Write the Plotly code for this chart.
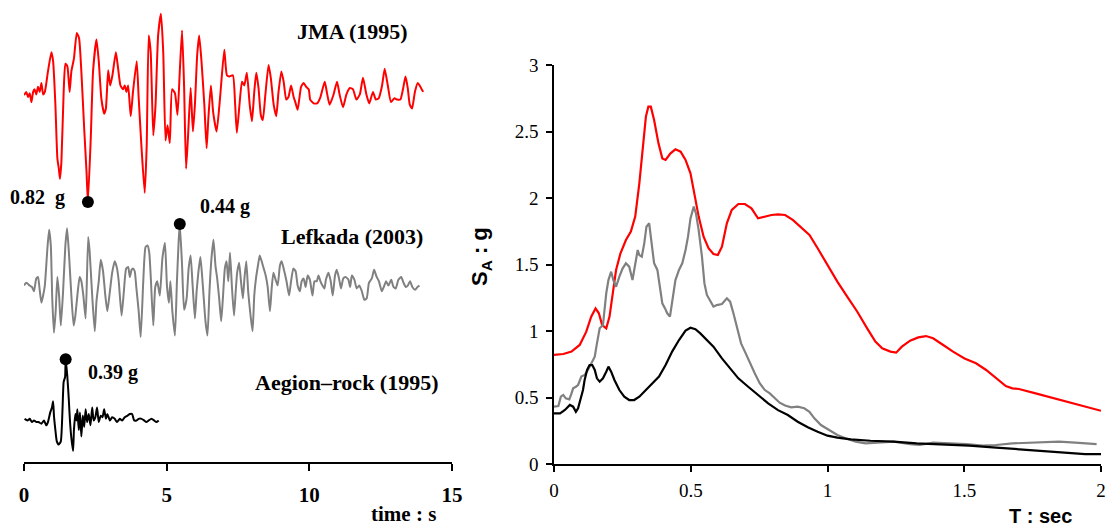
import plotly.graph_objects as go

# ---------------- time histories (t in s, acceleration in g) ----------------
jma_t = [0.0, 0.02, 0.08, 0.14, 0.20, 0.26, 0.32, 0.37, 0.43, 0.49, 0.55, 0.61, 0.67, 0.73, 0.84, 0.96,
         1.02, 1.10, 1.17, 1.22, 1.26, 1.31, 1.39, 1.45, 1.52, 1.60, 1.66, 1.75, 1.85, 1.93, 2.01, 2.11,
         2.19, 2.24, 2.34, 2.42, 2.54, 2.62, 2.71, 2.81, 2.87, 2.95, 3.02, 3.10, 3.22, 3.30, 3.38, 3.47,
         3.53, 3.59, 3.65, 3.74, 3.82, 3.95, 4.02, 4.12, 4.23, 4.30, 4.37, 4.44, 4.53, 4.61, 4.70, 4.80,
         4.88, 4.96, 5.03, 5.11, 5.19, 5.29, 5.38, 5.46, 5.54, 5.61, 5.68, 5.75, 5.84, 5.92, 5.99, 6.07,
         6.14, 6.22, 6.32, 6.40, 6.46, 6.55, 6.63, 6.75, 6.87, 7.02, 7.11, 7.20, 7.32, 7.40, 7.46, 7.56,
         7.64, 7.72, 7.81, 7.91, 7.99, 8.07, 8.14, 8.22, 8.30, 8.37, 8.46, 8.57, 8.65, 8.75, 8.84, 8.92,
         9.02, 9.10, 9.19, 9.27, 9.36, 9.45, 9.51, 9.59, 9.71, 9.80, 9.89, 9.98, 10.03, 10.15, 10.27,
         10.39, 10.54, 10.62, 10.71, 10.85, 10.97, 11.06, 11.18, 11.30, 11.42, 11.53, 11.65, 11.77,
         11.88, 12.00, 12.10, 12.23, 12.33, 12.43, 12.55, 12.64, 12.75, 12.86, 12.98, 13.08, 13.19,
         13.29, 13.37, 13.45, 13.52, 13.60, 13.70, 13.80, 13.89, 13.99]
jma_a = [0.03, 0.02, 0.04, 0.00, 0.03, -0.04, 0.04, 0.06, 0.02, 0.08, 0.04, 0.11, 0.02, 0.04, 0.20, 0.35,
         0.28, -0.06, -0.48, -0.56, -0.64, -0.51, 0.04, 0.26, 0.24, 0.04, 0.20, 0.30, 0.50, 0.46, 0.20, -0.25,
         -0.58, -0.82, -0.32, 0.20, 0.45, 0.28, -0.01, -0.13, -0.09, 0.21, 0.09, 0.17, 0.35, 0.22, 0.09, 0.06,
         0.09, 0.04, 0.09, -0.15, 0.04, 0.28, -0.01, -0.40, -0.75, -0.38, 0.48, 0.35, -0.30, -0.06, 0.48, 0.65,
         0.35, -0.34, -0.22, -0.36, 0.06, 0.03, -0.14, 0.20, 0.52, 0.09, -0.56, -0.30, 0.07, -0.27, -0.06, 0.33,
         0.48, 0.28, -0.06, -0.40, -0.17, 0.09, -0.12, -0.27, -0.01, 0.37, 0.17, 0.16, 0.17, -0.06, -0.28, -0.04,
         0.12, 0.09, 0.19, -0.06, -0.19, 0.04, 0.19, 0.07, -0.14, -0.18, 0.02, 0.25, 0.15, -0.06, -0.15, 0.04,
         0.20, 0.12, -0.02, 0.00, 0.09, 0.00, -0.04, -0.10, 0.08, 0.11, 0.08, 0.06, -0.02, -0.05, -0.05,
         0.00, 0.12, 0.03, -0.06, 0.02, 0.12, 0.02, -0.08, 0.02, 0.07, 0.06, -0.02, 0.02,
         0.15, 0.02, -0.05, 0.04, -0.02, -0.01, 0.09, 0.22, 0.09, -0.04, -0.01, -0.02, -0.02,
         0.07, 0.16, 0.07, -0.06, -0.09, 0.04, 0.11, 0.08, 0.04]

lef_t = [0.0, 0.08, 0.20, 0.28, 0.35, 0.43, 0.49, 0.55, 0.61, 0.67, 0.73, 0.82, 0.88, 0.94, 0.99, 1.05,
         1.11, 1.17, 1.23, 1.29, 1.37, 1.45, 1.51, 1.58, 1.66, 1.74, 1.80, 1.87, 1.95, 2.01, 2.08, 2.16,
         2.25, 2.30, 2.39, 2.48, 2.54, 2.62, 2.69, 2.77, 2.85, 2.92, 3.01, 3.09, 3.18, 3.26, 3.32, 3.42,
         3.50, 3.58, 3.65, 3.71, 3.77, 3.82, 3.88, 3.94, 4.02, 4.09, 4.18, 4.26, 4.33, 4.39, 4.44, 4.53,
         4.60, 4.67, 4.76, 4.85, 4.94, 5.01, 5.08, 5.13, 5.20, 5.29, 5.36, 5.42, 5.46, 5.54, 5.61, 5.70,
         5.77, 5.84, 5.91, 5.99, 6.05, 6.11, 6.18, 6.23, 6.30, 6.36, 6.43, 6.50, 6.57, 6.64, 6.71, 6.77,
         6.84, 6.91, 6.97, 7.04, 7.10, 7.16, 7.22, 7.29, 7.36, 7.42, 7.47, 7.54, 7.60, 7.67, 7.73, 7.79,
         7.86, 7.94, 8.01, 8.07, 8.13, 8.20, 8.26, 8.33, 8.40, 8.47, 8.54, 8.62, 8.68, 8.74, 8.82, 8.89,
         8.97, 9.03, 9.11, 9.20, 9.29, 9.36, 9.44, 9.52, 9.59, 9.67, 9.73, 9.80, 9.87, 9.94, 10.02,
         10.11, 10.18, 10.26, 10.32, 10.39, 10.46, 10.53, 10.58, 10.67, 10.75, 10.82, 10.90, 10.96,
         11.04, 11.11, 11.19, 11.27, 11.37, 11.43, 11.49, 11.58, 11.66, 11.75, 11.84, 11.93, 12.01,
         12.09, 12.19, 12.27, 12.36, 12.44, 12.54, 12.61, 12.69, 12.77, 12.87, 12.95, 13.03, 13.12,
         13.22, 13.30, 13.38, 13.45, 13.53, 13.61, 13.71, 13.79, 13.86]
lef_a = [0.01, 0.03, 0.01, 0.00, -0.03, 0.06, 0.07, -0.02, -0.11, -0.06, 0.01, 0.27, 0.40, 0.29, -0.08, -0.32,
         -0.17, 0.07, -0.06, -0.27, -0.03, 0.29, 0.41, 0.22, -0.06, -0.27, -0.20, -0.06, 0.07, 0.04, -0.06, -0.22,
         0.35, 0.25, -0.06, -0.31, -0.10, 0.04, 0.19, 0.11, -0.06, -0.17, -0.03, 0.10, 0.18, 0.13, 0.04, -0.20,
         -0.03, 0.13, 0.14, 0.07, 0.12, 0.13, 0.11, -0.01, -0.17, -0.35, 0.04, 0.28, 0.29, 0.24, 0.08, -0.27,
         0.00, 0.04, -0.06, 0.20, 0.31, 0.01, -0.11, 0.04, -0.17, -0.34, 0.04, 0.32, 0.44, 0.15, -0.16, -0.08,
         0.13, 0.22, 0.01, -0.22, -0.03, 0.10, 0.21, 0.11, -0.08, -0.24, -0.34, -0.03, 0.20, 0.33, 0.15, 0.06,
         -0.08, -0.24, -0.08, 0.13, 0.18, 0.04, 0.24, -0.01, -0.20, -0.03, 0.10, 0.17, 0.05, -0.08, 0.07, 0.18,
         -0.04, -0.20, -0.31, -0.06, 0.06, 0.15, 0.22, 0.18, 0.13, 0.08, 0.00, -0.17, -0.01, 0.10, 0.05, 0.01,
         0.15, 0.18, 0.12, 0.04, -0.06, 0.04, 0.13, 0.11, 0.01, -0.03, 0.04, 0.06, 0.00, 0.08, 0.05,
         -0.06, 0.04, 0.04, 0.08, 0.04, 0.01, -0.01, 0.05, 0.10, 0.04, -0.06, 0.08, 0.12,
         0.06, -0.01, 0.06, 0.07, 0.05, 0.00, 0.08, 0.05, -0.01, 0.01, -0.03, -0.09, -0.08,
         0.03, 0.06, 0.12, 0.07, 0.04, -0.03, 0.00, 0.04, 0.01, 0.05, 0.00, -0.01, 0.05,
         0.07, 0.03, 0.00, 0.01, 0.04, 0.00, -0.02, 0.00, 0.01]

aeg_t = [0.02, 0.12, 0.20, 0.28, 0.35, 0.43, 0.51, 0.61, 0.70, 0.78, 0.84, 0.92, 0.98, 1.02, 1.05, 1.10,
         1.15, 1.22, 1.29, 1.35, 1.39, 1.44, 1.46, 1.52, 1.57, 1.61, 1.66, 1.72, 1.75, 1.80, 1.84, 1.87,
         1.92, 1.96, 2.01, 2.06, 2.11, 2.16, 2.21, 2.27, 2.33, 2.39, 2.44, 2.50, 2.56, 2.62, 2.69, 2.75,
         2.81, 2.87, 2.92, 3.01, 3.09, 3.18, 3.26, 3.36, 3.44, 3.53, 3.63, 3.71, 3.79, 3.86, 3.94, 4.02,
         4.12, 4.21, 4.29, 4.37, 4.47, 4.56, 4.64, 4.72]
aeg_a = [0.02, 0.01, 0.02, 0.00, 0.01, 0.00, 0.00, -0.01, 0.01, -0.02, 0.00, 0.06, 0.09, 0.13, 0.04, -0.05,
         -0.12, -0.14, -0.12, 0.08, 0.25, 0.28, 0.39, 0.28, 0.14, 0.01, -0.10, -0.18, -0.05, 0.05, 0.01, 0.08,
         -0.05, 0.06, -0.09, 0.04, -0.03, 0.08, 0.00, 0.05, -0.02, 0.09, 0.01, 0.03, 0.09, 0.00, 0.04, 0.03,
         0.08, 0.02, 0.05, 0.01, 0.03, 0.02, 0.00, 0.02, 0.01, 0.03, 0.04, 0.05, 0.05, 0.01, 0.01, 0.02,
         0.02, 0.01, 0.00, 0.01, 0.02, 0.01, 0.00, 0.01]

# ---------------- response spectra (T in s, SA in g) ----------------
jma_T = [0.0, 0.034, 0.064, 0.094, 0.118, 0.136, 0.152, 0.164, 0.176, 0.191, 0.203, 0.215, 0.227, 0.243,
         0.263, 0.281, 0.297, 0.312, 0.324, 0.336, 0.345, 0.354, 0.366, 0.382, 0.396, 0.408, 0.426, 0.444,
         0.463, 0.481, 0.499, 0.514, 0.529, 0.547, 0.565, 0.583, 0.599, 0.614, 0.632, 0.650, 0.674, 0.698,
         0.722, 0.746, 0.771, 0.795, 0.819, 0.845, 0.873, 0.902, 0.934, 0.964, 1.0, 1.036, 1.072, 1.109,
         1.145, 1.175, 1.200, 1.230, 1.251, 1.272, 1.302, 1.332, 1.360, 1.386, 1.423, 1.459, 1.501, 1.543,
         1.580, 1.616, 1.652, 1.676, 1.700, 1.761, 1.821, 1.882, 1.942, 2.0]
jma_SA = [0.82, 0.827, 0.845, 0.895, 0.995, 1.108, 1.17, 1.133, 1.045, 1.02, 1.108, 1.283, 1.459, 1.584,
          1.684, 1.747, 1.86, 2.11, 2.361, 2.612, 2.687, 2.687, 2.586, 2.411, 2.298, 2.286, 2.336, 2.366,
          2.348, 2.286, 2.185, 2.035, 1.86, 1.709, 1.622, 1.579, 1.571, 1.634, 1.81, 1.91, 1.955, 1.955,
          1.922, 1.847, 1.86, 1.872, 1.877, 1.872, 1.835, 1.784, 1.722, 1.622, 1.496, 1.371, 1.258, 1.145,
          1.02, 0.92, 0.87, 0.845, 0.837, 0.882, 0.927, 0.952, 0.962, 0.945, 0.895, 0.845, 0.794, 0.757,
          0.707, 0.644, 0.586, 0.569, 0.564, 0.531, 0.499, 0.466, 0.431, 0.40]

lef_T = [0.0, 0.016, 0.025, 0.034, 0.043, 0.056, 0.064, 0.070, 0.080, 0.088, 0.100, 0.112, 0.124, 0.136,
         0.149, 0.155, 0.161, 0.167, 0.179, 0.191, 0.199, 0.209, 0.217, 0.227, 0.239, 0.251, 0.263, 0.275,
         0.287, 0.297, 0.306, 0.312, 0.321, 0.330, 0.338, 0.348, 0.357, 0.366, 0.378, 0.386, 0.396, 0.406,
         0.414, 0.424, 0.432, 0.444, 0.457, 0.469, 0.481, 0.490, 0.499, 0.511, 0.519, 0.529, 0.541, 0.550,
         0.559, 0.571, 0.583, 0.595, 0.614, 0.632, 0.644, 0.656, 0.668, 0.684, 0.698, 0.716, 0.734, 0.752,
         0.771, 0.789, 0.807, 0.825, 0.845, 0.867, 0.891, 0.915, 0.934, 0.952, 0.976, 1.006, 1.036, 1.066,
         1.103, 1.139, 1.181, 1.242, 1.302, 1.338, 1.386, 1.447, 1.507, 1.568, 1.616, 1.676, 1.737, 1.785,
         1.846, 1.906, 1.984]
lef_SA = [0.431, 0.436, 0.506, 0.519, 0.494, 0.486, 0.531, 0.569, 0.581, 0.594, 0.657, 0.669, 0.707, 0.757,
          0.807, 0.882, 0.957, 1.02, 1.045, 1.283, 1.383, 1.446, 1.383, 1.333, 1.409, 1.471, 1.509, 1.484,
          1.383, 1.509, 1.609, 1.571, 1.559, 1.659, 1.784, 1.81, 1.659, 1.509, 1.459, 1.358, 1.208, 1.17,
          1.133, 1.108, 1.208, 1.383, 1.459, 1.509, 1.609, 1.709, 1.847, 1.935, 1.885, 1.759, 1.559, 1.358,
          1.271, 1.221, 1.183, 1.195, 1.203, 1.246, 1.221, 1.133, 1.033, 0.907, 0.845, 0.757, 0.682, 0.607,
          0.556, 0.531, 0.494, 0.461, 0.44, 0.426, 0.431, 0.419, 0.393, 0.343, 0.293, 0.256, 0.218, 0.193,
          0.168, 0.155, 0.16, 0.168, 0.15, 0.143, 0.16, 0.155, 0.15, 0.138, 0.143, 0.155, 0.16, 0.168,
          0.168, 0.16, 0.15]

aeg_T = [0.0, 0.022, 0.040, 0.058, 0.070, 0.080, 0.088, 0.097, 0.106, 0.112, 0.121, 0.130, 0.140, 0.149,
         0.157, 0.167, 0.179, 0.191, 0.199, 0.209, 0.221, 0.239, 0.257, 0.275, 0.293, 0.312, 0.336, 0.360,
         0.384, 0.408, 0.432, 0.457, 0.481, 0.499, 0.517, 0.535, 0.559, 0.583, 0.614, 0.644, 0.674, 0.710,
         0.746, 0.783, 0.819, 0.855, 0.891, 0.928, 0.964, 1.0, 1.036, 1.085, 1.157, 1.242, 1.326, 1.423,
         1.519, 1.604, 1.688, 1.785, 1.870, 1.942, 2.0]
aeg_SA = [0.381, 0.381, 0.406, 0.444, 0.431, 0.393, 0.419, 0.481, 0.556, 0.632, 0.707, 0.744, 0.744, 0.707,
          0.644, 0.619, 0.644, 0.694, 0.732, 0.694, 0.632, 0.556, 0.506, 0.481, 0.481, 0.506, 0.556, 0.607,
          0.657, 0.744, 0.845, 0.932, 1.003, 1.025, 1.013, 0.982, 0.932, 0.882, 0.794, 0.719, 0.644, 0.581,
          0.519, 0.456, 0.405, 0.368, 0.318, 0.276, 0.243, 0.213, 0.198, 0.185, 0.175, 0.168, 0.155, 0.148,
          0.138, 0.125, 0.113, 0.098, 0.088, 0.075, 0.075]

names = ["JMA (1995)", "Lefkada (2003)", "Aegion\u2013rock (1995)"]
colors = ["#ff0000", "#808080", "#000000"]
pga_labels = ["0.82&nbsp; g", "0.44 g", "0.39 g"]

W, H = 1107, 530
SERIF = "Liberation Serif, Times New Roman, serif"
SANS = "Liberation Sans, Arial, sans-serif"

fig = go.Figure()

# left: stacked acceleration records, each on its own (hidden) overlaid y axis
hist = [(jma_t, jma_a, "y"), (lef_t, lef_a, "y2"), (aeg_t, aeg_a, "y3")]
for (t, a, yax), c, n in zip(hist, colors, names):
    fig.add_trace(go.Scatter(x=t, y=a, mode="lines",
                             line=dict(color=c, width=2, shape="spline", smoothing=0.5),
                             xaxis="x", yaxis=yax, name=n, showlegend=False, hoverinfo="skip"))
    k = max(range(len(a)), key=lambda i: abs(a[i]))
    fig.add_trace(go.Scatter(x=[t[k]], y=[a[k]], mode="markers",
                             marker=dict(color="black", size=12), xaxis="x", yaxis=yax,
                             showlegend=False, hoverinfo="skip"))

# right: spectra
for T, S, c in [(jma_T, jma_SA, colors[0]), (lef_T, lef_SA, colors[1]), (aeg_T, aeg_SA, colors[2])]:
    fig.add_trace(go.Scatter(x=T, y=S, mode="lines", line=dict(color=c, width=2.2),
                             xaxis="x2", yaxis="y4", showlegend=False, hoverinfo="skip"))

left_dom = [1 - 462 / H, 1.0]
hidden = dict(visible=False, domain=left_dom, anchor="x", fixedrange=True)

fig.update_layout(
    width=W, height=H, margin=dict(l=0, r=0, t=0, b=0),
    paper_bgcolor="white", plot_bgcolor="white", showlegend=False,
    xaxis=dict(domain=[24 / W, 452 / W], range=[0, 15], tickvals=[0, 5, 10, 15],
               showline=True, linecolor="black", linewidth=2, ticks="outside", ticklen=7,
               tickwidth=2, tickcolor="black", showgrid=False, zeroline=False, anchor="y",
               ticklabelstandoff=6,
               tickfont=dict(family=SERIF, size=21, color="black", weight="bold"),
               automargin=False),
    yaxis=dict(hidden, range=[-2.852, 0.758]),
    yaxis2=dict(hidden, range=[-1.224, 2.007], overlaying="y"),
    yaxis3=dict(hidden, range=[-0.248, 2.621], overlaying="y"),
    xaxis2=dict(domain=[554 / W, 1101 / W], range=[0, 2], dtick=0.5, anchor="y4",
                showline=True, linecolor="black", linewidth=1.5, ticks="outside", ticklen=6,
                tickwidth=1.5, tickcolor="black", showgrid=False, zeroline=False,
                ticklabelstandoff=2,
                tickfont=dict(family=SERIF, size=19, color="black"), automargin=False),
    yaxis4=dict(domain=[1 - 464 / H, 1 - 65 / H], range=[0, 3], dtick=0.5, anchor="x2",
                showline=True, linecolor="black", linewidth=1.5, ticks="outside", ticklen=6,
                tickwidth=1.5, tickcolor="black", showgrid=False, zeroline=False,
                ticklabelstandoff=4,
                tickfont=dict(family=SERIF, size=19, color="black"), automargin=False),
)

def ann(text, px, py, font, size, angle=0):
    fig.add_annotation(text=text, x=px / W, y=1 - py / H, xref="paper", yref="paper",
                       showarrow=False, xanchor="center", yanchor="middle", textangle=angle,
                       font=dict(family=font, size=size, color="black", weight="bold"))

ann(names[0], 352, 32, SERIF, 22)
ann(names[1], 352, 236, SERIF, 22)
ann(names[2], 347, 382, SERIF, 22)
ann(pga_labels[0], 37, 198, SERIF, 20)
ann(pga_labels[1], 225, 206, SERIF, 20)
ann(pga_labels[2], 113, 372, SERIF, 20)
ann("time : s", 403, 514, SERIF, 21)
ann("T : sec", 1040, 516, SANS, 20)
ann("S<sub>A</sub> : g", 481, 257, SANS, 22, angle=-90)

fig.write_html("out.html")
